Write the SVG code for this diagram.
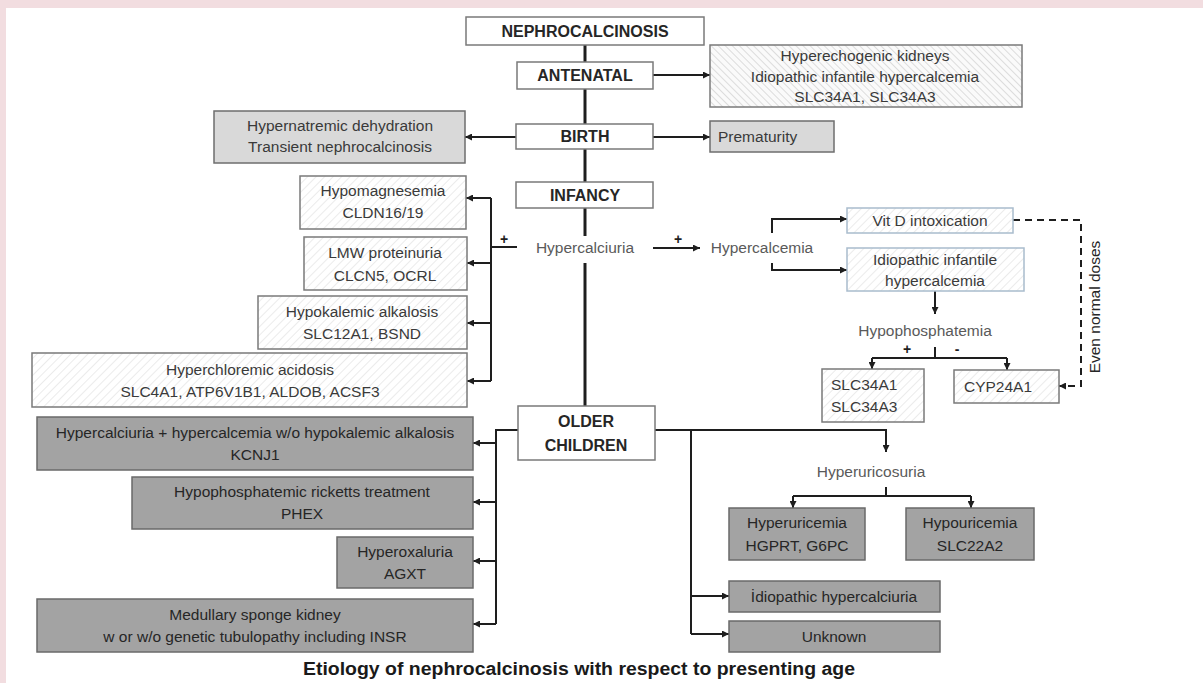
<svg xmlns="http://www.w3.org/2000/svg" width="1203" height="683" viewBox="0 0 1203 683">
<style>
.t{font-family:"Liberation Sans",Arial,sans-serif;font-size:15.5px;fill:#3a3a3a;text-anchor:middle}
.ts{text-anchor:start}
.lt{fill:#5a5a5a}
.dk{fill:#262626}
.b{font-family:"Liberation Sans",Arial,sans-serif;font-weight:bold;font-size:16px;fill:#262626;text-anchor:middle}
.wb{fill:#ffffff;stroke:#7a7a7a;stroke-width:1.5}
.lg{fill:#d9d9d9;stroke:#6e6e6e;stroke-width:1.5}
.dg{fill:#a3a3a3;stroke:#6a6a6a;stroke-width:1.5}
.ht{fill:url(#hatch);stroke:#7a7a7a;stroke-width:1.5}
.ha{fill:url(#hatch2);stroke:#7a7a7a;stroke-width:1.5}
.hb{fill:url(#hatch);stroke:#a9bccd;stroke-width:1.5}
.c{fill:none;stroke:#1e1e1e;stroke-width:2}
.ca{fill:none;stroke:#1e1e1e;stroke-width:2;marker-end:url(#ah)}
.sp{fill:none;stroke:#1e1e1e;stroke-width:3}
.ds{fill:none;stroke:#1e1e1e;stroke-width:2;stroke-dasharray:7 5;marker-end:url(#ah)}
.pm{font-family:"Liberation Sans",Arial,sans-serif;font-weight:bold;font-size:14px;fill:#1e1e1e;text-anchor:middle}
</style>
<defs>
<pattern id="hatch" patternUnits="userSpaceOnUse" width="6" height="6" patternTransform="rotate(45)">
<rect width="6" height="6" fill="#ffffff"/>
<line x1="0" y1="0" x2="0" y2="6" stroke="#dedede" stroke-width="1.2"/>
</pattern>
<pattern id="hatch2" patternUnits="userSpaceOnUse" width="5" height="5" patternTransform="rotate(-45)">
<rect width="5" height="5" fill="#fafafa"/>
<line x1="0" y1="0" x2="0" y2="5" stroke="#c8c8c8" stroke-width="1.2"/>
</pattern>
<marker id="ah" viewBox="0 0 10 10" refX="10" refY="5" markerWidth="7" markerHeight="7" orient="auto" markerUnits="userSpaceOnUse">
<path d="M0,0 L10,5 L0,10 z" fill="#1e1e1e"/>
</marker>
</defs>
<rect x="0" y="0" width="1203" height="683" fill="#f2dde0"/>
<rect x="6" y="8" width="1197" height="675" fill="#ffffff"/>

<g id="connectors">
<path class="sp" d="M585,45 V236"/>
<path class="sp" d="M585,263 V406"/>
<path class="ca" d="M653,75 H710"/>
<path class="ca" d="M653,137 H710"/>
<path class="ca" d="M516,137 H465"/>
<path class="c" d="M517,247 H491"/>
<path class="c" d="M491,198 V381"/>
<path class="ca" d="M491,198 H466"/>
<path class="ca" d="M491,263 H467"/>
<path class="ca" d="M491,323 H467"/>
<path class="ca" d="M491,381 H467"/>
<path class="ca" d="M653,248 H700"/>
<path class="ca" d="M772,233 V219 H847"/>
<path class="ca" d="M772,263 V270 H847"/>
<path class="ca" d="M935,291 V314"/>
<path class="c" d="M935,347 V358"/>
<path class="ca" d="M872,358 V369"/>
<path class="c" d="M872,358 H1007"/>
<path class="ca" d="M1007,358 V370"/>
<path class="ds" d="M1013,220 H1081 V386 H1059"/>
<path class="c" d="M518,430 H496 V624"/>
<path class="ca" d="M496,443 H473"/>
<path class="ca" d="M496,502 H473"/>
<path class="ca" d="M496,561 H473"/>
<path class="ca" d="M496,624 H473"/>
<path class="ca" d="M655,430 H886 V452"/>
<path class="c" d="M691,430 V634"/>
<path class="ca" d="M691,596 H729"/>
<path class="ca" d="M691,634 H729"/>
<path class="c" d="M886,487 V496"/>
<path class="ca" d="M793,496 V508"/>
<path class="c" d="M793,496 H971"/>
<path class="ca" d="M971,496 V508"/>
<text class="pm" x="504" y="244">+</text>
<text class="pm" x="678" y="244">+</text>
<text class="pm" x="907" y="354">+</text>
<text class="pm" x="957" y="354">-</text>
<text class="t dk" transform="translate(1100,307) rotate(-90)">Even normal doses</text>
</g>

<g id="nephrocalcinosis"><rect class="wb" x="466" y="17" width="238" height="28"/><text class="b" x="585" y="37">NEPHROCALCINOSIS</text></g>
<g id="antenatal"><rect class="wb" x="517" y="62" width="136" height="27"/><text class="b" x="585" y="81">ANTENATAL</text></g>
<g id="antenatal-causes"><rect class="ha" x="710" y="45" width="312" height="62"/>
<text class="t" x="865" y="61">Hyperechogenic kidneys</text>
<text class="t" x="865" y="82">Idiopathic infantile hypercalcemia</text>
<text class="t" x="865" y="102">SLC34A1, SLC34A3</text></g>
<g id="birth"><rect class="wb" x="516" y="124" width="137" height="25"/><text class="b" x="585" y="142">BIRTH</text></g>
<g id="prematurity"><rect class="lg" x="710" y="121" width="124" height="31"/><text class="t ts" x="718" y="142">Prematurity</text></g>
<g id="hypernatremic"><rect class="lg" x="214" y="111" width="251" height="52"/>
<text class="t" x="340" y="131">Hypernatremic dehydration</text>
<text class="t" x="340" y="152">Transient nephrocalcinosis</text></g>
<g id="infancy"><rect class="wb" x="516" y="182" width="137" height="26"/><text class="b" x="585" y="201">INFANCY</text></g>
<g id="hypomagnesemia"><rect class="ht" x="300" y="176" width="166" height="53"/>
<text class="t" x="383" y="196">Hypomagnesemia</text><text class="t" x="383" y="218">CLDN16/19</text></g>
<g id="lmw"><rect class="ht" x="304" y="237" width="163" height="53"/>
<text class="t" x="385" y="258">LMW proteinuria</text><text class="t" x="385" y="281">CLCN5, OCRL</text></g>
<g id="hypokalemic"><rect class="ht" x="258" y="296" width="209" height="53"/>
<text class="t" x="362" y="317">Hypokalemic alkalosis</text><text class="t" x="362" y="339">SLC12A1, BSND</text></g>
<g id="hyperchloremic"><rect class="ht" x="32" y="353" width="435" height="54"/>
<text class="t" x="250" y="375">Hyperchloremic acidosis</text><text class="t" x="250" y="397">SLC4A1, ATP6V1B1, ALDOB, ACSF3</text></g>
<g id="hypercalciuria"><text class="t lt" x="585" y="253">Hypercalciuria</text></g>
<g id="hypercalcemia"><text class="t lt" x="762" y="253">Hypercalcemia</text></g>
<g id="vitd"><rect class="hb" x="847" y="208" width="166" height="25"/><text class="t" x="930" y="226">Vit D intoxication</text></g>
<g id="iih"><rect class="hb" x="847" y="248" width="177" height="43"/>
<text class="t" x="935" y="265">Idiopathic infantile</text><text class="t" x="935" y="286">hypercalcemia</text></g>
<g id="hypophosphatemia"><text class="t lt" x="925" y="336">Hypophosphatemia</text></g>
<g id="slc34"><rect class="ht" x="822" y="369" width="102" height="53"/>
<text class="t ts" x="831" y="390">SLC34A1</text><text class="t ts" x="831" y="412">SLC34A3</text></g>
<g id="cyp24a1"><rect class="ht" x="954" y="370" width="105" height="33"/><text class="t ts" x="964" y="392">CYP24A1</text></g>
<g id="older-children"><rect class="wb" x="518" y="406" width="137" height="54"/>
<text class="b" x="586" y="427">OLDER</text><text class="b" x="586" y="451">CHILDREN</text></g>
<g id="kcnj1"><rect class="dg" x="37" y="417" width="436" height="53"/>
<text class="t dk" x="255" y="438">Hypercalciuria + hypercalcemia w/o hypokalemic alkalosis</text><text class="t dk" x="255" y="460">KCNJ1</text></g>
<g id="phex"><rect class="dg" x="132" y="477" width="341" height="52"/>
<text class="t dk" x="302" y="497">Hypophosphatemic ricketts treatment</text><text class="t dk" x="302" y="519">PHEX</text></g>
<g id="agxt"><rect class="dg" x="337" y="537" width="136" height="51"/>
<text class="t dk" x="405" y="557">Hyperoxaluria</text><text class="t dk" x="405" y="579">AGXT</text></g>
<g id="msk"><rect class="dg" x="37" y="599" width="436" height="53"/>
<text class="t dk" x="255" y="620">Medullary sponge kidney</text><text class="t dk" x="255" y="642">w or w/o genetic tubulopathy including INSR</text></g>
<g id="hyperuricosuria"><text class="t lt" x="871" y="477">Hyperuricosuria</text></g>
<g id="hyperuricemia"><rect class="dg" x="729" y="508" width="136" height="52"/>
<text class="t dk" x="797" y="528">Hyperuricemia</text><text class="t dk" x="797" y="551">HGPRT, G6PC</text></g>
<g id="hypouricemia"><rect class="dg" x="906" y="508" width="128" height="52"/>
<text class="t dk" x="970" y="528">Hypouricemia</text><text class="t dk" x="970" y="551">SLC22A2</text></g>
<g id="idiopathic-hypercalciuria"><rect class="dg" x="729" y="581" width="211" height="31"/><text class="t dk" x="834" y="602">İdiopathic hypercalciuria</text></g>
<g id="unknown"><rect class="dg" x="729" y="621" width="211" height="31"/><text class="t dk" x="834" y="642">Unknown</text></g>
<text x="579" y="675" font-family="Liberation Sans, Arial, sans-serif" font-weight="bold" font-size="18" fill="#1a1a1a" text-anchor="middle" textLength="552" lengthAdjust="spacingAndGlyphs">Etiology of nephrocalcinosis with respect to presenting age</text>
</svg>
